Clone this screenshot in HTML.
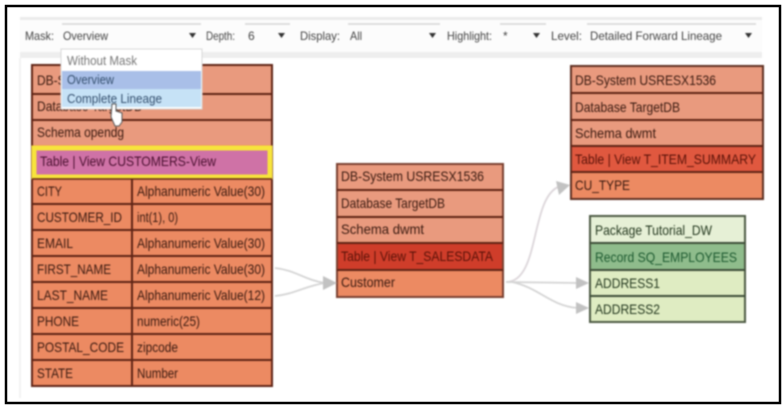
<!DOCTYPE html>
<html>
<head>
<meta charset="utf-8">
<style>
html,body{margin:0;padding:0;background:#fff;width:784px;height:408px;overflow:hidden}
svg{display:block;filter:blur(.8px)}
text{font-family:"Liberation Sans",sans-serif;font-size:14px;fill:#3a1a10;transform:translateY(1px)}
.tb text{fill:#444;font-size:12px;transform:none}
.dk{fill:#5a1208}
.gr{fill:#24381f}
</style>
</head>
<body>
<svg width="784" height="408" viewBox="0 0 784 408" xmlns="http://www.w3.org/2000/svg">
<rect width="784" height="408" fill="#fff"/>
<rect x="20" y="17" width="742" height="3" fill="#ebebeb"/>
<rect x="20" y="20" width="742" height="32" fill="#fcfcfc"/>
<rect x="20" y="52" width="742" height="6" fill="#eeeeee"/>
<rect x="19" y="58" width="2" height="340" fill="#f3f3f3"/>

<g class="tb">
<text x="25" y="40" textLength="29" lengthAdjust="spacingAndGlyphs">Mask:</text>
<text x="63" y="40" textLength="45" lengthAdjust="spacingAndGlyphs">Overview</text>
<text x="206" y="40" textLength="29" lengthAdjust="spacingAndGlyphs">Depth:</text>
<text x="248" y="40">6</text>
<text x="300" y="40" textLength="40" lengthAdjust="spacingAndGlyphs">Display:</text>
<text x="350" y="40" textLength="12" lengthAdjust="spacingAndGlyphs">All</text>
<text x="447" y="40" textLength="45" lengthAdjust="spacingAndGlyphs">Highlight:</text>
<text x="503" y="40">*</text>
<text x="551" y="40" textLength="31" lengthAdjust="spacingAndGlyphs">Level:</text>
<text x="590" y="40" textLength="132" lengthAdjust="spacingAndGlyphs">Detailed Forward Lineage</text>
</g>
<g stroke="#d4d4d4" stroke-width="1.500">
<line x1="62" y1="24" x2="201" y2="24"/>
<line x1="245" y1="24" x2="290" y2="24"/>
<line x1="348" y1="24" x2="440" y2="24"/>
<line x1="500" y1="24" x2="546" y2="24"/>
<line x1="587" y1="24" x2="756" y2="24"/>
</g>
<g fill="#333">
<polygon points="189,33 196,33 192.500,38"/>
<polygon points="278,33 285,33 281.500,38"/>
<polygon points="429,33 436,33 432.500,38"/>
<polygon points="533,33 540,33 536.500,38"/>
<polygon points="745,33 752,33 748.500,38"/>
</g>

<!-- left table -->
<rect x="32" y="65" width="240" height="321" fill="#ec8a62" stroke="#5f2415" stroke-width="2"/>
<rect x="33" y="66" width="238" height="79" fill="#e99a7e"/>
<g stroke="#5f2415" stroke-width="2">
<line x1="32" y1="94" x2="272" y2="94"/>
<line x1="32" y1="120" x2="272" y2="120"/>
<line x1="32" y1="204" x2="272" y2="204"/>
<line x1="32" y1="230" x2="272" y2="230"/>
<line x1="32" y1="256" x2="272" y2="256"/>
<line x1="32" y1="282" x2="272" y2="282"/>
<line x1="32" y1="308" x2="272" y2="308"/>
<line x1="32" y1="334" x2="272" y2="334"/>
<line x1="32" y1="360" x2="272" y2="360"/>
<line x1="132" y1="178" x2="132" y2="386"/>
</g>
<rect x="34" y="148" width="236" height="29" fill="#cf72a6" stroke="#f7e43c" stroke-width="5"/>
<line x1="32" y1="179" x2="272" y2="179" stroke="#5f2415" stroke-width="1.500"/>
<g>
<text x="37" y="84" textLength="140" lengthAdjust="spacingAndGlyphs">DB-System USRESX1536</text>
<text x="37" y="110" textLength="105" lengthAdjust="spacingAndGlyphs">Database TargetDB</text>
<text x="37" y="136" textLength="87" lengthAdjust="spacingAndGlyphs">Schema opendg</text>
<text x="40" y="165" textLength="176" lengthAdjust="spacingAndGlyphs" style="fill:#4a1030">Table | View CUSTOMERS-View</text>
<text x="37" y="195" textLength="25" lengthAdjust="spacingAndGlyphs">CITY</text>
<text x="137" y="195" textLength="128" lengthAdjust="spacingAndGlyphs">Alphanumeric Value(30)</text>
<text x="37" y="221" textLength="85" lengthAdjust="spacingAndGlyphs">CUSTOMER_ID</text>
<text x="137" y="221" textLength="41" lengthAdjust="spacingAndGlyphs">int(1), 0)</text>
<text x="37" y="247" textLength="36" lengthAdjust="spacingAndGlyphs">EMAIL</text>
<text x="137" y="247" textLength="128" lengthAdjust="spacingAndGlyphs">Alphanumeric Value(30)</text>
<text x="37" y="273" textLength="74" lengthAdjust="spacingAndGlyphs">FIRST_NAME</text>
<text x="137" y="273" textLength="128" lengthAdjust="spacingAndGlyphs">Alphanumeric Value(30)</text>
<text x="37" y="299" textLength="71" lengthAdjust="spacingAndGlyphs">LAST_NAME</text>
<text x="137" y="299" textLength="128" lengthAdjust="spacingAndGlyphs">Alphanumeric Value(12)</text>
<text x="37" y="325" textLength="42" lengthAdjust="spacingAndGlyphs">PHONE</text>
<text x="137" y="325" textLength="63" lengthAdjust="spacingAndGlyphs">numeric(25)</text>
<text x="37" y="351" textLength="87" lengthAdjust="spacingAndGlyphs">POSTAL_CODE</text>
<text x="137" y="351" textLength="41" lengthAdjust="spacingAndGlyphs">zipcode</text>
<text x="37" y="377" textLength="36" lengthAdjust="spacingAndGlyphs">STATE</text>
<text x="137" y="377" textLength="41" lengthAdjust="spacingAndGlyphs">Number</text>
</g>

<!-- dropdown -->
<rect x="61" y="49" width="141" height="60" fill="#fff" stroke="#d8d8d8"/>
<rect x="62" y="71" width="139" height="18" fill="#a9bfe8"/>
<rect x="62" y="89" width="139" height="18" fill="#c6e2f6"/>
<text x="67" y="64" textLength="70" lengthAdjust="spacingAndGlyphs" style="fill:#777;font-size:13px">Without Mask</text>
<text x="67" y="83" textLength="47" lengthAdjust="spacingAndGlyphs" style="fill:#35506f;font-size:13px">Overview</text>
<text x="67" y="102" textLength="95" lengthAdjust="spacingAndGlyphs" style="fill:#35506f;font-size:13px">Complete Lineage</text>
<path d="M112 104 L116 104 L116 111 L122 113 L122 122 L119 126 L115 126 L111 117 Z" fill="#fff" stroke="#555" stroke-width="1"/>

<!-- middle table -->
<rect x="337" y="164" width="166" height="133" fill="#ec8a62" stroke="#7a4030" stroke-width="2"/>
<rect x="338" y="165" width="164" height="78" fill="#e99a7e"/>
<rect x="338" y="243" width="164" height="26" fill="#cf3d2a"/>
<g stroke="#5f2415" stroke-width="2">
<line x1="337" y1="190" x2="503" y2="190"/>
<line x1="337" y1="217" x2="503" y2="217"/>
<line x1="337" y1="243" x2="503" y2="243"/>
<line x1="337" y1="270" x2="503" y2="270"/>
</g>
<text x="341" y="180" textLength="143" lengthAdjust="spacingAndGlyphs">DB-System USRESX1536</text>
<text x="341" y="207" textLength="104" lengthAdjust="spacingAndGlyphs">Database TargetDB</text>
<text x="341" y="233" textLength="83" lengthAdjust="spacingAndGlyphs">Schema dwmt</text>
<text x="341" y="260" textLength="152" lengthAdjust="spacingAndGlyphs" class="dk">Table | View T_SALESDATA</text>
<text x="341" y="286" textLength="54" lengthAdjust="spacingAndGlyphs">Customer</text>

<!-- top right table -->
<rect x="571" y="66" width="192" height="133" fill="#ec8a62" stroke="#5f3022" stroke-width="2"/>
<rect x="572" y="67" width="190" height="78" fill="#e99a7e"/>
<rect x="572" y="146" width="190" height="26" fill="#e0583f"/>
<g stroke="#5f2415" stroke-width="2">
<line x1="571" y1="93" x2="763" y2="93"/>
<line x1="571" y1="120" x2="763" y2="120"/>
<line x1="571" y1="146" x2="763" y2="146"/>
<line x1="571" y1="172" x2="763" y2="172"/>
</g>
<text x="575" y="84" textLength="141" lengthAdjust="spacingAndGlyphs">DB-System USRESX1536</text>
<text x="575" y="111" textLength="105" lengthAdjust="spacingAndGlyphs">Database TargetDB</text>
<text x="575" y="137" textLength="81" lengthAdjust="spacingAndGlyphs">Schema dwmt</text>
<text x="575" y="163" textLength="181" lengthAdjust="spacingAndGlyphs" class="dk">Table | View T_ITEM_SUMMARY</text>
<text x="575" y="189" textLength="55" lengthAdjust="spacingAndGlyphs">CU_TYPE</text>

<!-- green table -->
<rect x="590" y="216" width="155" height="106" fill="#dfecc2" stroke="#4d5a44" stroke-width="2"/>
<rect x="591" y="217" width="153" height="26" fill="#e6f0d6"/>
<rect x="591" y="243" width="153" height="27" fill="#8fbc8c"/>
<g stroke="#3d4d38" stroke-width="2">
<line x1="590" y1="243" x2="745" y2="243"/>
<line x1="590" y1="270" x2="745" y2="270"/>
<line x1="590" y1="296" x2="745" y2="296"/>
</g>
<text x="595" y="234" textLength="117" lengthAdjust="spacingAndGlyphs" class="gr">Package Tutorial_DW</text>
<text x="595" y="261" textLength="142" lengthAdjust="spacingAndGlyphs" style="fill:#1d5a30">Record SQ_EMPLOYEES</text>
<text x="595" y="287" textLength="65" lengthAdjust="spacingAndGlyphs" class="gr">ADDRESS1</text>
<text x="595" y="313" textLength="65" lengthAdjust="spacingAndGlyphs" class="gr">ADDRESS2</text>

<!-- connectors -->
<g fill="none" stroke="#d4d4d4" stroke-width="1.800">
<path d="M275 268 C295 270 305 280 325 283"/>
<path d="M275 296 C295 294 305 286 325 283"/>
<path d="M506 282 C540 282 530 200 558 187" stroke="#dcd6da"/>
<path d="M506 282 L578 283"/>
<path d="M512 282 C540 288 550 306 578 308"/>
</g>
<g fill="#c2c2c2">
<polygon points="323,276 337,283 323,290"/>
<polygon points="556,181 570,185 559,195"/>
<polygon points="576,277 589,283 576,289"/>
<polygon points="576,302 589,308 576,314"/>
</g>
</svg>
<svg width="784" height="408" viewBox="0 0 784 408" xmlns="http://www.w3.org/2000/svg" style="position:absolute;left:0;top:0;filter:none">
<rect x="6" y="6" width="774" height="397" fill="none" stroke="#000" stroke-width="2.500"/>
</svg>
</body>
</html>
